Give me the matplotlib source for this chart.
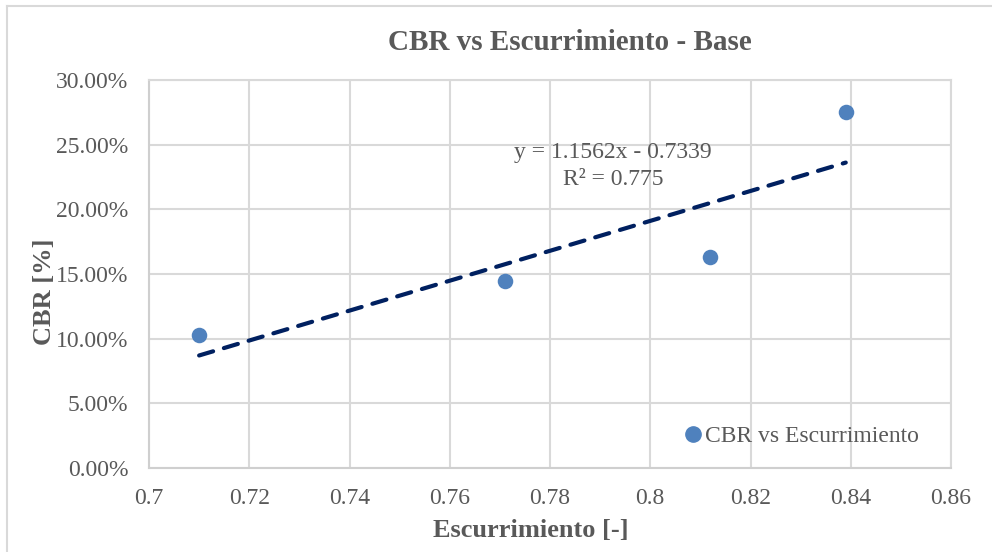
import matplotlib
matplotlib.use("Agg")
import matplotlib.pyplot as plt
from matplotlib.lines import Line2D
from matplotlib.ticker import FuncFormatter

# Measured data
escurrimiento = [0.710, 0.771, 0.812, 0.839]
cbr = [0.1025, 0.1443, 0.1635, 0.2752]

# Linear trendline coefficients
slope = 1.1562
intercept = -0.7339
r2 = 0.775

x_ticks = [0.70, 0.72, 0.74, 0.76, 0.78, 0.80, 0.82, 0.84, 0.86]
y_ticks = [0.00, 0.05, 0.10, 0.15, 0.20, 0.25, 0.30]

plt.rcParams['font.family'] = ['Liberation Serif', 'DejaVu Serif']

TEXT = '#595959'
GRID = '#d9d9d9'
POINT = '#4f81bd'
TREND = '#002060'

fig = plt.figure(figsize=(9.92, 5.52), dpi=100)
ax = fig.add_axes([149 / 992, 1 - 468 / 552, (951 - 149) / 992, (468 - 80) / 552])

ax.scatter(escurrimiento, cbr, s=125, color=POINT, zorder=3, linewidths=0)

x0, x1 = min(escurrimiento), max(escurrimiento)
ax.plot([x0, x1], [slope * x0 + intercept, slope * x1 + intercept],
        color=TREND, lw=3, ls=(0, (3.5, 2.7)), zorder=2, dash_capstyle='round')

ax.set_xlim(0.70, 0.86)
ax.set_ylim(0.0, 0.30)
ax.set_xticks(x_ticks)
ax.set_yticks(y_ticks)
ax.xaxis.set_major_formatter(FuncFormatter(lambda v, p: f"{v:.2f}".rstrip('0').rstrip('.')))
ax.yaxis.set_major_formatter(FuncFormatter(lambda v, p: f"{v * 100:.2f}%"))
ax.tick_params(axis='both', length=0, labelsize=17, colors=TEXT)
ax.tick_params(axis='y', pad=15)
ax.tick_params(axis='x', pad=14.5)
ax.grid(True, color=GRID, lw=1.5)
ax.set_axisbelow(True)
for side, sp in ax.spines.items():
    sp.set_color(GRID)
    sp.set_linewidth(1.5)
ax.spines['left'].set_color('#cfcfcf')
ax.spines['bottom'].set_color('#cfcfcf')

fig.text(570 / 992, 1 - 42 / 552, 'CBR vs Escurrimiento - Base', ha='center', va='center',
         fontsize=21, fontweight='bold', color=TEXT)
fig.text(531 / 992, 1 - 530 / 552, 'Escurrimiento [-]', ha='center', va='center',
         fontsize=19, fontweight='bold', color=TEXT)
fig.text(45 / 992, 1 - 292 / 552, 'CBR [%]', ha='center', va='center', rotation=90,
         fontsize=19, fontweight='bold', color=TEXT)

ax.text(0.7926, 0.2335, f"y = {slope}x - {abs(intercept)}\nR² = {r2}", ha='center',
        va='center', fontsize=17, color=TEXT, linespacing=1.34, zorder=4)

handle = Line2D([], [], marker='o', ls='none', color=POINT, markersize=11)
leg = ax.legend([handle], ['CBR vs Escurrimiento'], loc='lower right',
                bbox_to_anchor=(0.972, 0.03), frameon=False, fontsize=17,
                handletextpad=0.0, handlelength=1.0, borderaxespad=0)
for t in leg.get_texts():
    t.set_color(TEXT)

# Chart frame
fig.add_artist(Line2D([7 / 992, 7 / 992], [0, 1 - 6 / 552], color=GRID, lw=1.5,
                      transform=fig.transFigure))
fig.add_artist(Line2D([7 / 992, 1], [1 - 6 / 552, 1 - 6 / 552], color=GRID, lw=1.5,
                      transform=fig.transFigure))

fig.savefig('out.png', dpi=100)
